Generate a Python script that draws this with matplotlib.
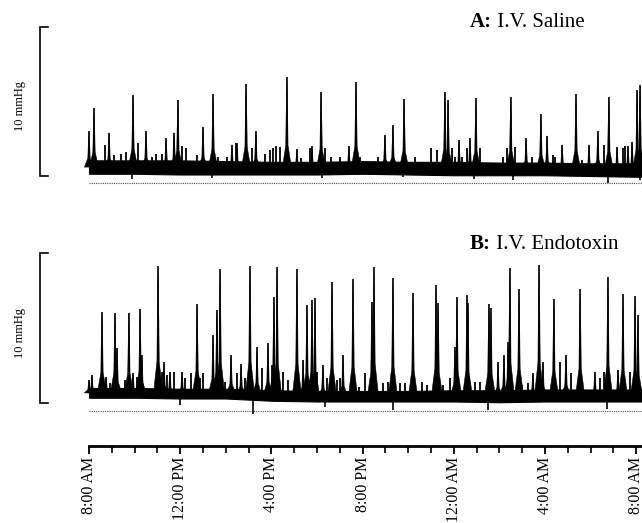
import numpy as np
import matplotlib
matplotlib.use('Agg')
import matplotlib.pyplot as plt
from matplotlib.patches import Polygon

plt.rcParams['font.family'] = ['Liberation Serif', 'DejaVu Serif']

# ---------------- data (hours after 8:00 AM, mmHg above scale-bar zero) ----------------
hour_ticks = list(range(0, 25))
label_hours = [0, 4, 8, 12, 16, 20, 24]
tick_labels = ['8:00 AM', '12:00 PM', '4:00 PM', '8:00 PM', '12:00 AM', '4:00 AM', '8:00 AM']

panel_titles = [('A:', ' I.V. Saline'), ('B:', ' I.V. Endotoxin')]
scale_label = '10 mmHg'
scale_value = 10

# Panel A: saline
a_band_t = [0, 2, 4, 6, 8, 10, 12, 14, 16, 18, 20, 22, 24, 24.25]
a_band_lo = [0.15, 0.15, 0.10, 0.10, 0.10, 0.10, 0.15, 0.10, 0.05, 0.05, 0.05, 0.00, -0.05, -0.05]
a_band_hi = [1.05, 1.05, 1.05, 1.00, 0.95, 0.95, 1.00, 0.95, 0.95, 0.90, 0.90, 0.85, 0.85, 0.85]
a_peak_t = [0.0, 0.22, 0.88, 1.93, 2.5, 3.38, 3.73, 3.9, 5.0, 5.44, 6.27, 6.49, 6.89, 7.32,
            8.68, 9.12, 9.78, 10.18, 11.4, 11.71, 12.98, 13.33, 13.82, 15.61, 15.75, 16.23,
            16.71, 16.97, 18.5, 19.17, 19.82, 20.09, 20.75, 21.36, 21.93, 22.32, 22.8, 23.16,
            23.64, 23.82, 24.04, 24.17]
a_peak_h = [3.0, 4.56, 2.9, 5.44, 3.0, 2.55, 2.9, 5.1, 3.3, 5.5, 2.1, 2.2, 6.17, 3.0,
            6.64, 1.8, 2.0, 5.64, 2.0, 6.3, 2.75, 3.4, 5.17, 5.64, 5.1, 2.4,
            2.55, 5.23, 5.3, 2.55, 4.16, 2.7, 2.1, 5.5, 2.1, 3.0, 5.3, 1.95,
            2.0, 2.3, 5.77, 6.1]
a_minor_t = [0.70, 1.10, 1.40, 1.62, 2.15, 2.76, 2.94, 3.20, 4.08, 4.25, 4.74, 5.66, 6.05, 6.45,
             7.15, 7.72, 7.94, 8.07, 8.20, 8.38, 9.30, 9.69, 10.35, 10.61, 11.01, 11.89,
             12.68, 14.30, 15.00, 15.26, 15.92, 16.05, 16.36, 16.58, 17.15, 18.16, 18.33, 18.68,
             19.43, 20.35, 20.44, 21.62, 22.59, 23.42, 23.51]
a_minor_h = [2.1, 1.4, 1.45, 1.6, 2.2, 1.3, 1.5, 1.5, 2.0, 1.9, 1.4, 1.3, 1.3, 2.2,
             1.85, 1.45, 1.75, 1.9, 2.0, 1.95, 1.2, 1.9, 1.9, 1.3, 1.3, 1.3,
             1.3, 1.3, 1.85, 1.75, 1.85, 1.3, 1.3, 1.9, 1.85, 1.3, 1.9, 1.95,
             1.3, 1.4, 1.3, 1.1, 2.1, 1.9, 2.0]
a_dip_t = [1.89, 5.39, 10.22, 13.77, 16.9, 18.6, 22.76, 24.17]
a_dip_h = [-0.2, -0.15, -0.15, -0.1, -0.2, -0.27, -0.47, -0.27]
a_ref_level = -0.5

# Panel B: endotoxin
b_band_t = [0, 2, 4, 6, 8, 10, 12, 14, 16, 18, 20, 22, 24, 24.25]
b_band_lo = [0.35, 0.35, 0.30, 0.30, 0.15, 0.10, 0.10, 0.10, 0.10, 0.05, 0.10, 0.10, 0.10, 0.10]
b_band_hi = [1.00, 1.00, 0.95, 0.95, 0.85, 0.80, 0.80, 0.80, 0.85, 0.85, 0.90, 0.90, 0.90, 0.90]
b_peak_t = [0.0, 0.13, 0.57, 0.75, 1.14, 1.23, 1.75, 1.93, 2.24, 2.32, 3.03, 3.29, 3.55, 4.08,
            4.74, 5.44, 5.61, 5.75, 6.23, 6.67, 7.06, 7.37, 7.85, 8.11, 8.25, 9.12, 9.39,
            9.56, 9.78, 9.91, 10.26, 10.66, 11.14, 11.58, 12.41, 12.5, 13.33, 14.21, 15.22,
            15.31, 16.05, 16.14, 16.58, 16.62, 17.54, 17.63, 17.94, 18.2, 18.38, 18.46, 18.86,
            19.47, 19.74, 19.91, 20.39, 20.92, 21.54, 22.19, 22.76, 23.2, 23.42, 23.95, 24.08]
b_peak_h = [1.53, 1.87, 6.07, 1.73, 6.0, 3.67, 6.0, 2.0, 6.27, 3.2, 9.13, 2.73, 2.07, 2.07,
            6.6, 4.53, 6.2, 8.93, 3.2, 2.6, 9.13, 3.73, 4.0, 7.07, 9.07, 8.93, 2.87,
            6.53, 6.87, 7.0, 2.53, 8.07, 3.2, 8.27, 6.73, 9.07, 8.33, 7.33, 7.87,
            6.67, 3.73, 7.07, 7.2, 6.67, 6.6, 6.33, 2.73, 3.2, 4.07, 9.0, 7.6,
            2.0, 9.2, 2.73, 6.93, 3.2, 7.6, 2.07, 8.4, 2.2, 7.27, 7.13, 5.87]
b_minor_t = [0.92, 1.58, 2.11, 3.20, 3.42, 3.73, 4.21, 4.47, 4.87, 5.0, 5.96, 6.49, 6.84, 7.59,
             8.03, 8.51, 8.73, 10.0, 10.44, 10.88, 11.01, 11.84, 12.11, 12.89, 13.11, 13.64,
             13.86, 14.61, 14.82, 15.53, 15.83, 16.93, 17.15, 18.99, 19.25, 20.66, 21.14,
             22.41, 22.59, 23.73]
b_minor_h = [1.31, 1.53, 1.73, 2.09, 1.87, 2.09, 1.64, 1.98, 1.64, 1.98, 1.42, 1.98, 1.64, 2.31,
             2.53, 2.09, 1.53, 2.09, 1.64, 1.53, 1.64, 1.09, 1.98, 1.31, 1.42, 1.31,
             1.31, 1.42, 1.2, 1.2, 1.64, 1.42, 1.42, 1.2, 1.31, 2.75, 1.98,
             1.64, 2.09, 2.09]
b_dip_t = [4.0, 7.19, 10.35, 13.33, 17.5, 22.72]
b_dip_h = [-0.1, -0.75, -0.27, -0.47, -0.47, -0.4]
b_ref_level = -0.53

# ---------------- layout helpers ----------------
W, H = 642, 523
X0 = 89.0          # pixel of 8:00 AM
PXH = 22.8         # pixels per hour
XLIM = (-X0 / PXH, (W - X0) / PXH)

fig = plt.figure(figsize=(W / 100, H / 100), dpi=100)


def add_axes_px(top, bottom):
    return fig.add_axes([0, 1 - bottom / H, 1, (bottom - top) / H])


def style_blank(ax):
    ax.set_xlim(*XLIM)
    for s in ax.spines.values():
        s.set_visible(False)
    ax.set_xticks([])
    ax.set_yticks([])
    ax.patch.set_alpha(0)


def draw_panel(ax, band_t, lo, hi, pk_t, pk_h, mn_t, mn_h, dp_t, dp_h, ref_level):
    mid = [(a + b) / 2 for a, b in zip(lo, hi)]
    ax.fill_between(band_t, lo, hi, color='black', lw=0.8, zorder=2)
    # minor spikes
    base_mn = np.interp(mn_t, band_t, mid)
    ax.vlines(mn_t, base_mn, mn_h, color='black', lw=1.3, zorder=3)
    # dips
    base_dp = np.interp(dp_t, band_t, lo)
    ax.vlines(dp_t, base_dp, dp_h, color='black', lw=1.2, zorder=3)
    # major peaks
    base_pk = np.interp(pk_t, band_t, mid)
    for t, h, b in zip(pk_t, pk_h, base_pk):
        body = b + 0.55 * (h - b)
        poly = [(t - 0.2, b), (t - 0.05, b + 0.25 * (h - b)), (t - 0.035, body), (t, h),
                (t + 0.035, body), (t + 0.05, b + 0.25 * (h - b)), (t + 0.2, b)]
        ax.add_patch(Polygon(poly, closed=True, fc='black', ec='black', lw=0.4, zorder=3))
    ax.vlines(pk_t, base_pk, pk_h, color='black', lw=1.1, zorder=3)
    # reference dotted line
    ax.plot([band_t[0], band_t[-1]], [ref_level, ref_level], color='0.3',
            lw=0.8, ls=(0, (1, 1)), zorder=1)
    # scale bar
    xb = (40 - X0) / PXH
    tick = 8 / PXH
    ax.plot([xb + tick, xb, xb, xb + tick], [scale_value, scale_value, 0, 0],
            color='black', lw=1.2, solid_joinstyle='miter', clip_on=False)
    ax.text((20 - X0) / PXH, scale_value * 0.47, scale_label, rotation=90,
            ha='center', va='center', fontsize=9)


# Panel A: scale bar zero at pixel 176, 14.9 px per mmHg
axA = add_axes_px(0, 200)
style_blank(axA)
axA.set_ylim((176 - 200) / 14.9, 176 / 14.9)
draw_panel(axA, a_band_t, a_band_lo, a_band_hi, a_peak_t, a_peak_h,
           a_minor_t, a_minor_h, a_dip_t, a_dip_h, a_ref_level)

# Panel B: scale bar zero at pixel 403, 15 px per mmHg
axB = add_axes_px(215, 430)
style_blank(axB)
axB.set_ylim((403 - 430) / 15.0, (403 - 215) / 15.0)
draw_panel(axB, b_band_t, b_band_lo, b_band_hi, b_peak_t, b_peak_h,
           b_minor_t, b_minor_h, b_dip_t, b_dip_h, b_ref_level)

# Titles
for (bold, rest), ybase in zip(panel_titles, [27, 249]):
    t1 = fig.text(470 / W, 1 - ybase / H, bold, fontsize=15, fontweight='bold',
                  ha='left', va='baseline')
    axA.annotate(rest, xy=(1, 0), xycoords=t1, ha='left', va='bottom', fontsize=15)

# Time axis
axT = add_axes_px(441, 446)
axT.set_xlim(*XLIM)
axT.patch.set_alpha(0)
for k in ['left', 'right', 'top']:
    axT.spines[k].set_visible(False)
axT.spines['bottom'].set_linewidth(2.0)
axT.spines['bottom'].set_bounds(0, XLIM[1])
axT.set_yticks([])
axT.set_xticks(label_hours)
axT.set_xticklabels(tick_labels, rotation=90, fontsize=11.5)
axT.set_xticks(hour_ticks, minor=True)
axT.tick_params(axis='x', which='major', length=6, width=1.3, pad=2)
axT.tick_params(axis='x', which='minor', length=5, width=1.2)

fig.savefig('out.png', dpi=100)
